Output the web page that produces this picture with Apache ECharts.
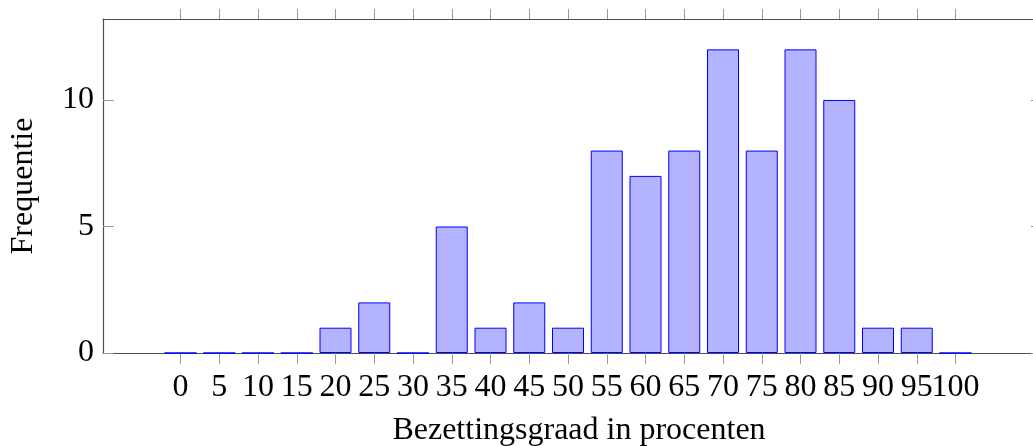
<!DOCTYPE html>
<html>
<head>
<meta charset="utf-8">
<script src="https://cdn.jsdelivr.net/npm/echarts@6/dist/echarts.min.js"></script>
<style>
  html, body { margin: 0; padding: 0; background: #fff; }
  #chart { width: 1033px; height: 446px; }
</style>
</head>
<body>
<div id="chart"></div>
<script>
// Occupancy histogram: number of observations per 5 % occupancy bin
const occupancy = [0, 5, 10, 15, 20, 25, 30, 35, 40, 45, 50, 55, 60, 65, 70, 75, 80, 85, 90, 95, 100];
const frequency = [0, 0, 0, 0, 1, 2, 0, 5, 1, 2, 1, 8, 7, 8, 12, 8, 12, 10, 1, 1, 0];
const yTicks = [0, 5, 10];

const FONT = '"Liberation Serif", "DejaVu Serif", serif';
const FONT_SIZE = 32;
const lineColor = '#4d4d4d';
const tickColor = '#9a9a9a';

// The last label sits right against its neighbour, so it lives on its own
// overlay axis to keep the label collision logic from dropping either one.
const labelsMain = occupancy.slice(0, -1);
const labelsLast = occupancy.slice(-1);

const labelStyle = { fontFamily: FONT, fontSize: FONT_SIZE, color: '#000' };

const chart = echarts.init(document.getElementById('chart'), null, { renderer: 'canvas' });

chart.setOption({
  animation: false,
  backgroundColor: '#ffffff',
  grid: { left: 103, top: 19, right: 0, bottom: 93, containLabel: false, outerBoundsMode: 'none' },
  xAxis: [
    {
      type: 'value',
      position: 'bottom',
      min: -10,
      max: 110,
      interval: 5,
      name: 'Bezettingsgraad in procenten',
      nameLocation: 'middle',
      nameGap: 62,
      nameTextStyle: Object.assign({ padding: [0, 0, 0, 22] }, labelStyle),
      axisLine: { show: true, onZero: false, lineStyle: { color: lineColor, width: 1.2 } },
      axisTick: { show: true, inside: false, length: 11, customValues: occupancy, lineStyle: { color: tickColor, width: 1 } },
      axisLabel: Object.assign({ show: true, margin: 19, customValues: labelsMain, hideOverlap: false }, labelStyle),
      splitLine: { show: false }
    },
    {
      type: 'value',
      position: 'top',
      min: -10,
      max: 110,
      interval: 5,
      axisLine: { show: true, onZero: false, lineStyle: { color: lineColor, width: 1.2 } },
      axisTick: { show: true, inside: false, length: 10, customValues: occupancy, lineStyle: { color: tickColor, width: 1 } },
      axisLabel: { show: false },
      splitLine: { show: false }
    },
    {
      type: 'value',
      position: 'bottom',
      offset: 0,
      min: -10,
      max: 110,
      interval: 5,
      axisLine: { show: false, onZero: false },
      axisTick: { show: false },
      axisLabel: Object.assign({ show: true, margin: 19, customValues: labelsLast, hideOverlap: false }, labelStyle),
      splitLine: { show: false }
    }
  ],
  yAxis: [
    {
      type: 'value',
      position: 'left',
      min: 0,
      max: 13.2,
      name: 'Frequentie',
      nameLocation: 'middle',
      nameGap: 63,
      nameRotate: 90,
      nameTextStyle: labelStyle,
      axisLine: { show: true, onZero: false, lineStyle: { color: lineColor, width: 1.2 } },
      axisTick: { show: true, inside: true, length: 11, customValues: yTicks, lineStyle: { color: tickColor, width: 1 } },
      axisLabel: Object.assign({ show: true, margin: 9, customValues: yTicks, hideOverlap: false }, labelStyle),
      splitLine: { show: false }
    },
    {
      type: 'value',
      position: 'right',
      min: 0,
      max: 13.2,
      axisLine: { show: false, onZero: false },
      axisTick: { show: true, inside: true, length: 2, customValues: yTicks, lineStyle: { color: tickColor, width: 1 } },
      axisLabel: { show: false },
      splitLine: { show: false }
    }
  ],
  series: [
    {
      type: 'bar',
      xAxisIndex: 0,
      yAxisIndex: 0,
      barWidth: 32,
      data: occupancy.map((x, i) => [x, frequency[i]]),
      itemStyle: { color: '#b3b3ff', borderColor: '#0000ff', borderWidth: 1 }
    }
  ]
});
</script>
</body>
</html>
